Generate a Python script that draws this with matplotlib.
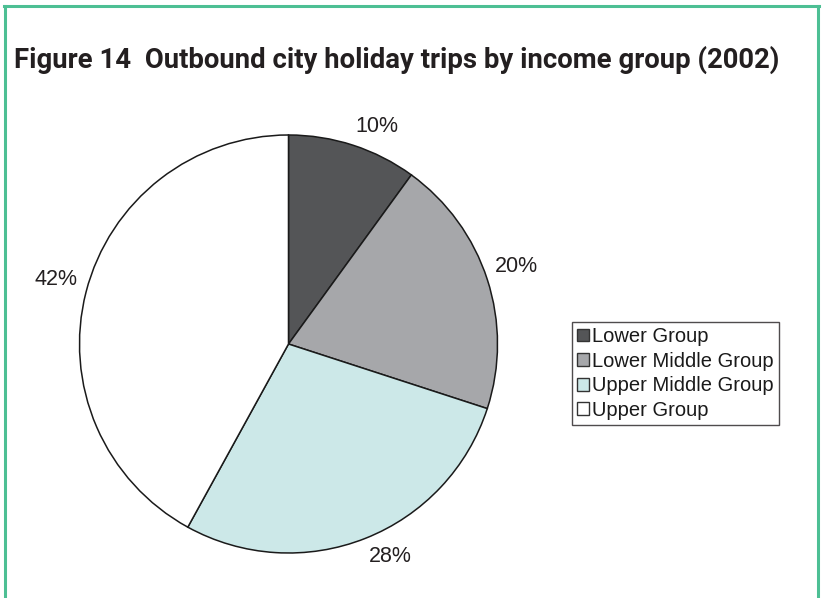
import numpy as np
import matplotlib.pyplot as plt
from matplotlib.patches import Patch

# income group shares of outbound city holiday trips, 2002
groups = ['Lower Group', 'Lower Middle Group', 'Upper Middle Group', 'Upper Group']
shares = [10, 20, 28, 42]
colours = ['#545557', '#a6a7aa', '#cce8e8', '#ffffff']

W, H = 822, 598
fig = plt.figure(figsize=(W / 100, H / 100), dpi=100)

# green frame, open at the bottom
frame_col = '#4dbf94'
fig.add_artist(plt.Line2D([4.5 / W, 4.5 / W], [0, 1 - 5.5 / H], color=frame_col, lw=2.2))
fig.add_artist(plt.Line2D([817.5 / W, 817.5 / W], [0, 1 - 5.5 / H], color=frame_col, lw=2.2))
fig.add_artist(plt.Line2D([3.5 / W, 818.5 / W], [1 - 5.5 / H, 1 - 5.5 / H], color=frame_col, lw=2.2))

title = fig.text(14 / W, 1 - 60 / H, 'Figure 14  Outbound city holiday trips by income group (2002)',
                 fontsize=20, fontweight='bold', family='Roboto',
                 color='#231f20', ha='left', va='center')
# scale the title so it runs to about x = 779 px
renderer = fig.canvas.get_renderer()
tw = title.get_window_extent(renderer).width
title.set_fontsize(20 * 765 / tw)

# pie centred at (288.5, 344) px with radius 209 px
cx, cy, r = 288.5, 344, 209
ax = fig.add_axes([(cx - r) / W, (H - cy - r) / H, 2 * r / W, 2 * r / H])
wedges, texts, autotexts = ax.pie(
    shares, colors=colours, startangle=90, counterclock=False,
    autopct='%.0f%%', pctdistance=1.16,
    wedgeprops=dict(edgecolor='#1a1a1a', linewidth=1.1),
    textprops=dict(fontsize=15.5, family='Liberation Sans', color='#231f20'))

# put each label just outside the rim, anchored by its nearest corner
for w, t in zip(wedges, autotexts):
    ang = np.deg2rad((w.theta1 + w.theta2) / 2)
    x, y = 1.04 * np.cos(ang), 1.04 * np.sin(ang)
    t.set_position((x, y))
    t.set_ha('left' if x > 0 else 'right')
    t.set_va('bottom' if y > 0 else 'top')

ax.set_xlim(-1, 1)
ax.set_ylim(-1, 1)
ax.set_aspect('equal')
ax.axis('off')

handles = [Patch(facecolor=c, edgecolor='#333333', linewidth=1.0) for c in colours]
leg = fig.legend(handles, groups, loc='upper left',
                 bbox_to_anchor=(572 / W, 1 - 322 / H),
                 prop=dict(family='Liberation Sans', size=14.5),
                 frameon=True, fancybox=False, borderpad=0.25,
                 handlelength=0.6, handleheight=0.6, handletextpad=0.15,
                 labelspacing=0.28, borderaxespad=0)
leg.get_frame().set_edgecolor('#231f20')
leg.get_frame().set_linewidth(1.0)
for t in leg.get_texts():
    t.set_color('#1a1a1a')

fig.savefig('out.png', dpi=100)
